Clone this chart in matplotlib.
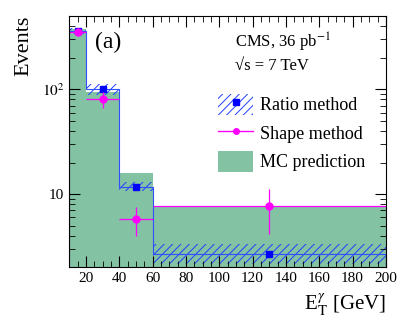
import numpy as np
import matplotlib.pyplot as plt
from matplotlib.ticker import MultipleLocator, LogLocator, FixedLocator, NullFormatter
from matplotlib.patches import Patch
from matplotlib.lines import Line2D

plt.rcParams['font.family'] = ['Liberation Serif', 'DejaVu Serif']
plt.rcParams['mathtext.fontset'] = 'stix'
plt.rcParams['hatch.color'] = '#2040ff'
plt.rcParams['hatch.linewidth'] = 0.7

# bin edges and contents
edges = [10, 20, 40, 60, 200]
centers = [15, 30, 50, 130]
mc = [380, 95, 16, 7.7]
ratio = [360, 100, 11.7, 2.7]
ratio_lo = [335, 88, 10.6, 2.15]
ratio_hi = [385, 112, 13.0, 3.3]
shape = [350, 80, 5.8, 7.7]
shape_lo = [320, 66, 3.95, 4.2]
shape_hi = [380, 94, 7.5, 11.2]

fig = plt.figure(figsize=(4.07, 3.22), dpi=100)
ax = fig.add_axes([0.17, 0.17, 0.778, 0.78])

# MC prediction
ax.stairs(mc, edges, fill=True, color='#84c2a4', lw=0)

# ratio method band and line
ax.stairs(ratio_hi, edges, baseline=ratio_lo, fill=True, facecolor='none',
          edgecolor='#2040ff', hatch='////', lw=0)
ax.stairs(ratio, edges, color='#3050ff', lw=0.8)
ax.plot(centers, ratio, 's', color='#0000ff', ms=5)

# shape method
xerr = [[c - e for c, e in zip(centers, edges[:-1])], [e - c for c, e in zip(centers, edges[1:])]]
yerr = [[s - l for s, l in zip(shape, shape_lo)], [h - s for s, h in zip(shape, shape_hi)]]
ax.errorbar(centers, shape, xerr=xerr, yerr=yerr, fmt='o', color='#ff00ff', ms=5,
            elinewidth=0.9, capsize=0)

# legend
h1 = (Patch(facecolor='none', edgecolor='#2040ff', hatch='////', lw=0),
      Line2D([], [], marker='s', color='#0000ff', ms=5, lw=0))
h2 = Line2D([], [], marker='o', color='#ff00ff', ms=4, lw=1)
h3 = Patch(facecolor='#84c2a4')
ax.legend([h1, h2, h3], ['Ratio method', 'Shape method', 'MC prediction'],
          loc='upper left', bbox_to_anchor=(0.42, 0.755), frameon=False,
          fontsize=13, handlelength=1.9, handleheight=1.4, labelspacing=0.42,
          handletextpad=0.4)

ax.set_yscale('log')
ax.set_xlim(10, 200)
ax.set_ylim(2, 500)
ax.xaxis.set_major_locator(FixedLocator([20, 40, 60, 80, 100, 120, 140, 160, 180, 200]))
ax.xaxis.set_minor_locator(MultipleLocator(5))
ax.yaxis.set_major_locator(FixedLocator([10, 100]))
ax.yaxis.set_major_formatter(plt.FixedFormatter(['10', '$10^2$']))
ax.yaxis.set_minor_locator(LogLocator(subs=np.arange(2, 10)))
ax.yaxis.set_minor_formatter(NullFormatter())
ax.tick_params(which='both', direction='in', top=True, right=True, labelsize=11)
ax.tick_params(which='major', length=8)
ax.tick_params(which='minor', length=4)

ax.set_ylabel('Events', fontsize=16, loc='top', labelpad=6)
ax.set_xlabel(r'E$_\mathrm{T}^\gamma$ [GeV]', fontsize=15, loc='right')

ax.text(0.08, 0.895, '(a)', transform=ax.transAxes, fontsize=17, va='center')
ax.text(0.525, 0.895, 'CMS, 36 pb$^{-1}$', transform=ax.transAxes, fontsize=12, va='center')
ax.text(0.525, 0.8, '√s = 7 TeV', transform=ax.transAxes, fontsize=12, va='center')

fig.savefig('out.png', dpi=100)
